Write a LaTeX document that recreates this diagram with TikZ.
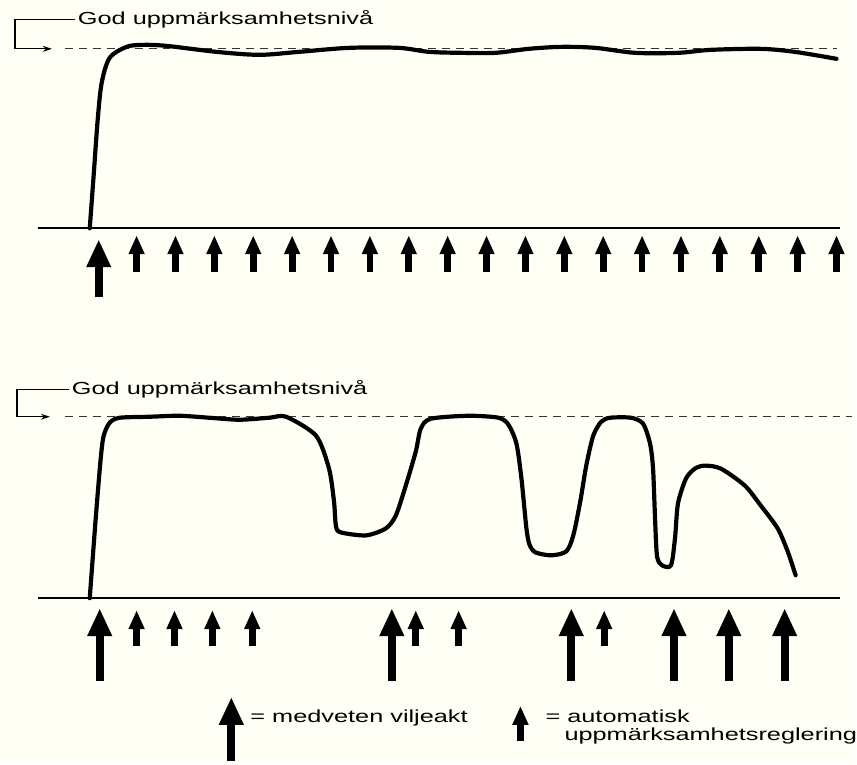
\documentclass[tikz,border=0pt]{standalone}
\usepackage{fontspec}
\setmainfont{Liberation Sans}
\usepackage{graphicx}
\usetikzlibrary{arrows.meta}

\definecolor{paper}{RGB}{255,255,246}
\newcommand{\wide}[1]{\scalebox{1.45}[1]{#1}}

\tikzset{
  curve/.style={line width=4.2pt, line join=round, line cap=round},
  axis/.style={line width=2pt},
  level/.style={line width=1.3pt, dash pattern=on 8pt off 6pt, black!80},
  bracket/.style={line width=1.3pt, -{Stealth[length=9pt,width=6pt]}},
  bigarrow/.style={line width=8pt, -{Triangle[width=23pt,length=28pt]}},
  smallarrow/.style={line width=6.8pt, -{Triangle[width=15pt,length=19pt]}},
  label/.style={inner sep=0pt, font=\fontsize{17.5}{18}\selectfont}
}

\begin{document}
\begin{tikzpicture}[x=1pt,y=-1pt]
  \fill[paper] (0,0) rectangle (857,763);

  % upper diagram
  \node[label, anchor=base west] (head1) at (78,25) {\wide{God uppmärksamhetsnivå}};
  \coordinate (lev1) at (52,49);
  \draw[bracket] ([xshift=-3pt]head1.west) -| (15,49) -- (lev1);
  \draw[level] (65,49) -- (839,49);
  \draw[axis] (38,229) -- (843,229);
  \draw[curve] plot[smooth, tension=0.5] coordinates {
    (90,229) (94,175) (98,120) (102,83) (110,58) (127,47) (143,45) (167,46)
    (217,52) (260,55) (300,52) (350,48) (400,48) (430,52) (463,53) (497,53)
    (530,49) (563,47) (597,48) (637,53) (680,53) (713,50) (763,49) (797,52) (839,59)};
  \draw[bigarrow] (99,298) -- (99,240);
  \foreach \x in {137,176,...,839}
    \draw[smallarrow] (\x,273) -- (\x,236);

  % lower diagram
  \node[label, anchor=base west] (head2) at (72,396) {\wide{God uppmärksamhetsnivå}};
  \coordinate (lev2) at (50,418);
  \draw[bracket] ([xshift=-3pt]head2.west) -| (17,418) -- (lev2);
  \draw[level] (65,418) -- (855,418);
  \draw[axis] (38,600) -- (842,600);
  \draw[curve] plot[smooth, tension=0.45] coordinates {
    (90,600) (96,520) (101,460) (104,437) (110,424) (120,419) (150,418)
    (180,417) (210,419) (240,421) (270,419) (287,418) (317,437) (330,470)
    (335,503) (337,528) (342,534) (367,537) (387,530) (397,517) (407,487)
    (417,453) (422,430) (432,420) (470,417) (500,419) (510,426) (518,445)
    (523,480) (528,530) (531,546) (537,554) (553,557) (568,553) (575,537)
    (582,503) (588,467) (595,437) (603,423) (612,419) (633,419) (645,425)
    (652,445) (655,470) (657,520) (659,558) (664,567) (673,567) (677,540)
    (680,505) (688,480) (697,470) (707,467) (723,470) (747,487) (763,507)
    (780,530) (790,553) (798,577)};
  \foreach \x in {100,393,573,676,731,787}
    \draw[bigarrow] (\x,683) -- (\x,610);
  \foreach \x in {137,175,213,253,417,460,606}
    \draw[smallarrow] (\x,648) -- (\x,612);

  % legend
  \draw[bigarrow] (232,763) -- (232,699);
  \node[label, anchor=base west] (legwill) at (251,725) {\wide{= medveten viljeakt}};
  \draw[smallarrow] (522,743) -- (522,708);
  \node[label, anchor=base west] (legauto) at (547,725) {\wide{= automatisk}};
  \node[label, anchor=base west] (legregl) at (566,743) {\wide{uppmärksamhetsreglering}};
\end{tikzpicture}
\end{document}
